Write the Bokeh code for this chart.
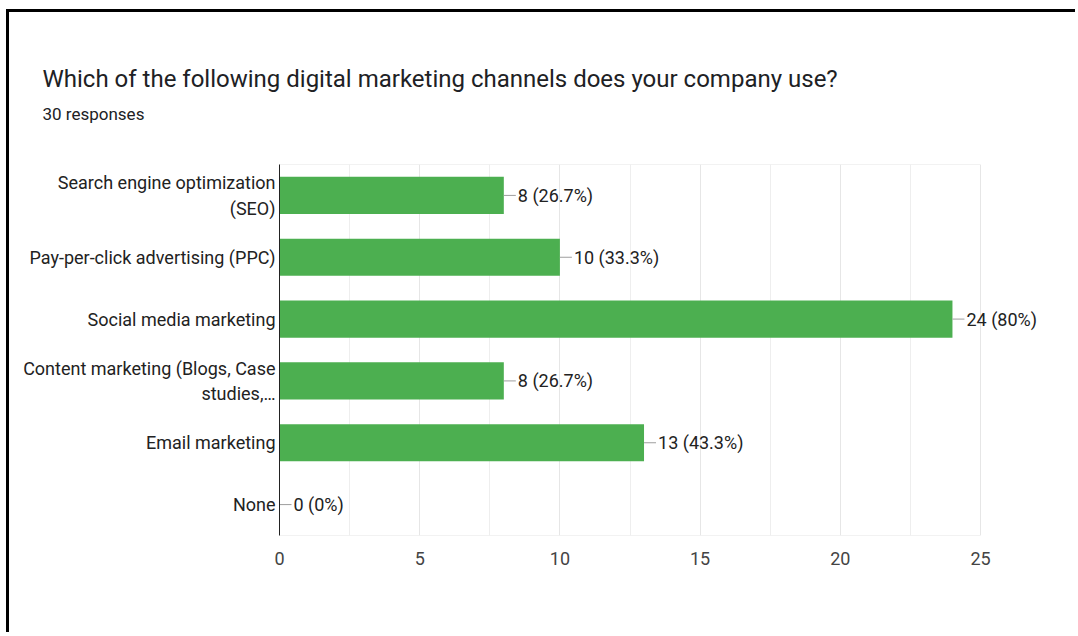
from bokeh.plotting import figure
from bokeh.layouts import column
from bokeh.models import FactorRange, Range1d, FixedTicker, ColumnDataSource
from bokeh.core.properties import value
from bokeh.embed import file_html
from bokeh.resources import INLINE

# ---- data ----
categories = [
    "Search engine optimization\n(SEO)",
    "Pay-per-click advertising (PPC)",
    "Social media marketing",
    "Content marketing (Blogs, Case\nstudies,…",
    "Email marketing",
    "None",
]
counts = [8, 10, 24, 8, 13, 0]
total_responses = 30
x_ticks = [0, 5, 10, 15, 20, 25]
x_minor = [2.5, 7.5, 12.5, 17.5, 22.5]

title_text = "Which of the following digital marketing channels does your company use?"
subtitle_text = f"{total_responses} responses"


def fmt(c):
    pct = round(c / total_responses * 100, 1)
    s = f"{pct:.1f}".rstrip("0").rstrip(".")
    return f"{c} ({s}%)"


value_labels = [fmt(c) for c in counts]

# ---- layout (pixels) ----
W = 1066
HEAD_H = 151          # header block height
MAIN_H = 469          # main chart height
FL = 270              # frame left
AX_W = 701            # pixel width of 0..25
FT, FB = 1, 97        # main frame top / bottom borders
x_max = 25
px = x_max / AX_W     # data units per pixel
x_end = x_max * (W - FL) / AX_W   # frame extends to the right edge so labels are not clipped
conn = 12 * px

ROBOTO = value("Roboto")

# ---- header ----
head = figure(width=W, height=HEAD_H, x_range=Range1d(0, W), y_range=Range1d(HEAD_H, 0),
              output_backend="svg", toolbar_location=None,
              min_border=0, min_border_left=0, min_border_right=0,
              min_border_top=0, min_border_bottom=0)
head.frame_align = False
head.axis.visible = False
head.grid.visible = False
head.outline_line_color = None
head.background_fill_color = "white"
head.border_fill_color = "white"
head.text(x=[33], y=[66], text=[title_text], text_font=ROBOTO,
          text_font_size=value("24px"), text_color="#202124",
          text_baseline="middle", text_align="left")
head.text(x=[33], y=[101], text=[subtitle_text], text_font=ROBOTO,
          text_font_size=value("17px"), text_color="#202124",
          text_baseline="middle", text_align="left")

# ---- main chart ----
src = ColumnDataSource(dict(
    cat=categories,
    val=counts,
    end=[c + conn for c in counts],
    tx=[c + conn + 2 * px for c in counts],
    lab=value_labels,
))

p = figure(
    width=W, height=MAIN_H,
    y_range=FactorRange(factors=list(reversed(categories)), range_padding=0),
    x_range=Range1d(0, x_end),
    output_backend="svg", toolbar_location=None,
    min_border_left=FL, min_border_right=0, min_border_top=FT, min_border_bottom=FB,
)
p.frame_align = False
p.background_fill_color = "white"
p.border_fill_color = "white"
p.outline_line_color = None

# plot-area frame lines (top & bottom) up to the last tick
n = len(categories)
p.segment(x0=[0, 0], x1=[x_max, x_max], y0=[0, n], y1=[0, n],
          line_color="#e6e6e6", line_width=1)

p.hbar(y="cat", right="val", left=0, height=0.6, source=src,
       fill_color="#4caf50", line_color=None)
p.segment(x0="val", y0="cat", x1="end", y1="cat", source=src,
          line_color="#9e9e9e", line_width=1)
p.text(x="tx", y="cat", text="lab", source=src,
       text_font=ROBOTO, text_font_size=value("18px"),
       text_color="#222222", text_baseline="middle", text_align="left")

# axes
p.xaxis.ticker = FixedTicker(ticks=x_ticks, minor_ticks=x_minor)
p.xaxis.axis_line_color = None
p.xaxis.major_tick_line_color = None
p.xaxis.minor_tick_line_color = None
p.xaxis.major_label_standoff = 10
p.xaxis.major_label_text_font = "Roboto"
p.xaxis.major_label_text_font_size = "18px"
p.xaxis.major_label_text_color = "#444444"

p.yaxis.axis_line_color = "#222222"
p.yaxis.axis_line_width = 1
p.yaxis.major_tick_line_color = None
p.yaxis.major_tick_in = 0
p.yaxis.major_tick_out = 0
p.yaxis.major_label_standoff = 4
p.yaxis.major_label_text_font = "Roboto"
p.yaxis.major_label_text_font_size = "18px"
p.yaxis.major_label_text_color = "#222222"

p.ygrid.grid_line_color = None
p.xgrid.grid_line_color = "#e6e6e6"
p.xgrid.minor_grid_line_color = "#eeeeee"

layout = column(head, p, spacing=0,
                styles={"margin-left": "6px", "margin-top": "9px",
                        "border-left": "3px solid #000", "border-top": "3px solid #000",
                        "background-color": "white"})

open("out.html", "w").write(file_html(layout, INLINE))
